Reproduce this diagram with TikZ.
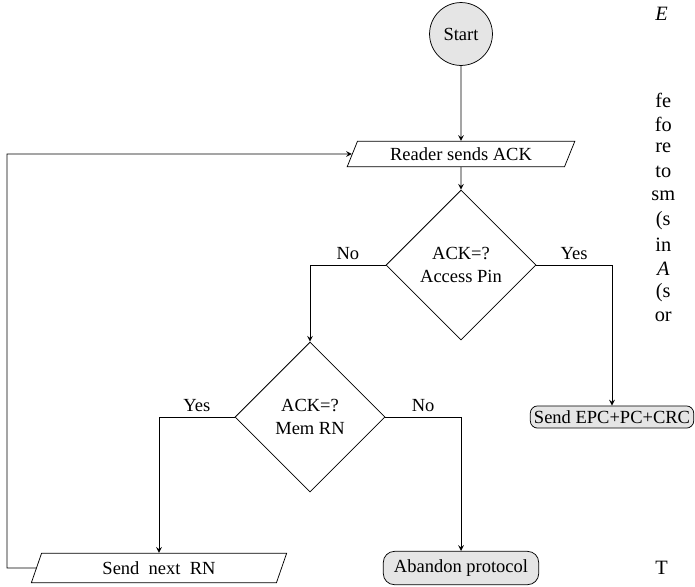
\documentclass[tikz,border=0pt]{standalone}
\usepackage{fontspec}
\setmainfont{Liberation Serif}
\usetikzlibrary{shapes.geometric, arrows}
\tikzstyle{startstop} = [circle, minimum size=34pt, inner sep=0pt,
text centered, 
draw=black, fill=gray!20]
\tikzstyle{io} = [trapezium, trapezium left angle=68, trapezium right angle=112,
trapezium stretches body, 
minimum height=16pt,
text centered, 
draw=black]
\tikzstyle{decision} = [diamond, aspect=1, minimum size=81pt, inner sep=1pt,
align=center, 
draw=black]
\tikzstyle{process} = [rectangle, rounded corners=4pt,
text centered, 
draw=black, fill=gray!20]
\tikzstyle{arrow} = [->,>=stealth]
\tikzstyle{lbl} = [above, inner sep=2.5pt]
\tikzstyle{col} = [anchor=west, inner sep=0pt, font=\fontsize{11}{13}\selectfont]

\begin{document}
\begin{tikzpicture}[x=0.5405pt, y=-0.5405pt]
\useasboundingbox (0,0) rectangle (695,586);
\clip (0,0) rectangle (695,586);
\node (start) [startstop] at (461,34) {Start};
\node (ack) [io, minimum width=123pt, minimum height=13pt] at (461,154) {Reader sends ACK};
\node (pin) [decision] at (461,265) {ACK=?\\Access Pin};
\node (mem) [decision] at (310,417) {ACK=?\\Mem RN};
\node (epc) [process, inner sep=2pt, minimum height=12pt] at (612,417) {Send EPC+PC+CRC};
\node (next) [io, minimum width=138pt] at (159,568) {Send\ \ next\ \ RN};
\node (stop) [process, rounded corners=6pt, minimum width=84pt, minimum height=18pt] at (461,568) {Abandon protocol};
\coordinate (back) at (7,568);

\draw [arrow] (start) -- (ack);
\draw [arrow] (ack) -- (pin);
\draw [arrow] (pin.west) -| node[lbl, pos=0.25] {No} (mem);
\draw [arrow] (pin.east) -| node[lbl, pos=0.25] {Yes} (epc);
\draw [arrow] (mem.west) -| node[lbl, pos=0.25] {Yes} (next);
\draw [arrow] (mem.east) -| node[lbl, pos=0.25] {No} (stop);
\draw [arrow] (next.west) -- (back) |- (ack.west);

% text of the next column
\node (c0) [col] at (655,14) {\textit{E}};
\node (c1) [col] at (655,100) {fe};
\node (c2) [col, below of=c1, node distance=13pt] {fo};
\node (c3) [col, below of=c2, node distance=13pt] {re};
\node (c4) [col, below of=c3, node distance=13pt] {to};
\node (c5) [col, below of=c4, node distance=13pt] {sm};
\node (c6) [col, below of=c5, node distance=13pt] {(s};
\node (c7) [col, below of=c6, node distance=13pt] {in};
\node (c8) [col, below of=c7, node distance=13pt] {\textit{A}};
\node (c9) [col, below of=c8, node distance=13pt] {(s};
\node (c10) [col, below of=c9, node distance=13pt] {or};
\node (c11) [col] at (655,568) {T};
\end{tikzpicture}
\end{document}
